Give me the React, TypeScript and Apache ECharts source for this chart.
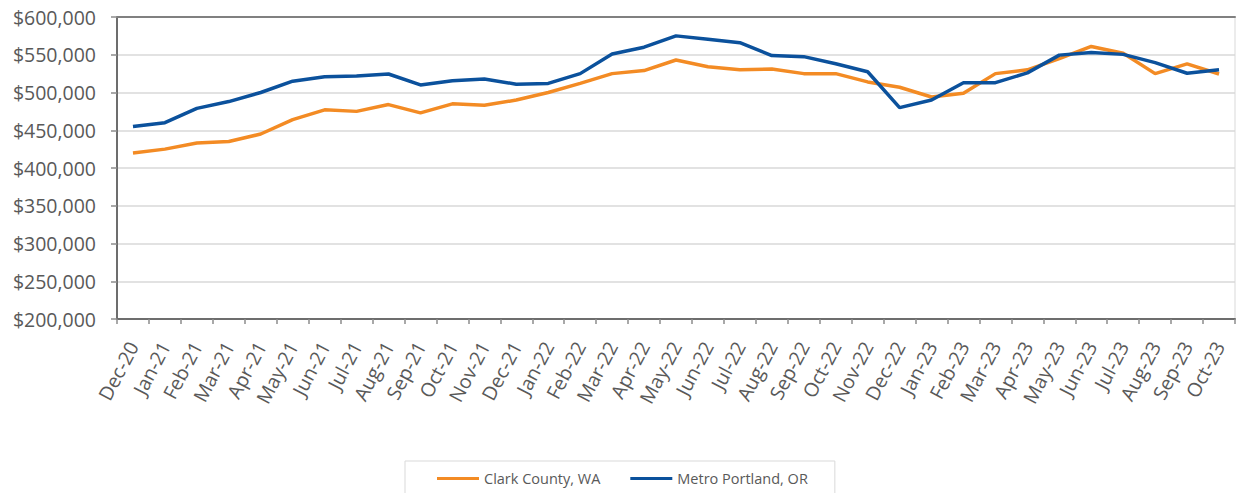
import React, { useEffect, useRef } from "react";
import * as echarts from "echarts";

const months = [
  "Dec-20", "Jan-21", "Feb-21", "Mar-21", "Apr-21", "May-21", "Jun-21", "Jul-21", "Aug-21", "Sep-21",
  "Oct-21", "Nov-21", "Dec-21", "Jan-22", "Feb-22", "Mar-22", "Apr-22", "May-22", "Jun-22", "Jul-22",
  "Aug-22", "Sep-22", "Oct-22", "Nov-22", "Dec-22", "Jan-23", "Feb-23", "Mar-23", "Apr-23", "May-23",
  "Jun-23", "Jul-23", "Aug-23", "Sep-23", "Oct-23",
];

const clarkCounty = [
  420000, 425000, 433000, 435000, 445000, 464000, 477000, 475000, 484000, 473000,
  485000, 483000, 490000, 500000, 512000, 525000, 529000, 543000, 534000, 530000,
  531000, 525000, 525000, 514000, 507000, 494000, 499000, 525000, 530000, 545000,
  561000, 552000, 525000, 538000, 524500,
];

const metroPortland = [
  455000, 460000, 479000, 488000, 500000, 515000, 521000, 522000, 524500, 510000,
  515500, 518000, 511000, 512000, 525000, 551000, 560000, 575000, 570500, 566000,
  549000, 547500, 538000, 527500, 480000, 490000, 513000, 513000, 526000, 549500,
  553000, 550500, 539500, 525500, 530000,
];

const seriesNames = ["Clark County, WA", "Metro Portland, OR"];

export default function App() {
  const ref = useRef<HTMLDivElement>(null);

  useEffect(() => {
    if (!ref.current) return;
    const chart = echarts.init(ref.current, undefined, { renderer: "svg" });
    const font = "'Open Sans', 'Noto Sans', sans-serif";
    chart.setOption({
      animation: false,
      backgroundColor: "#ffffff",
      textStyle: { fontFamily: font },
      grid: {
        left: 117,
        right: 1,
        top: 17,
        bottom: 174,
        show: true,
        borderColor: "#d9d9d9",
        borderWidth: 1,
        containLabel: false,
      },
      legend: {
        data: seriesNames.map((n) => ({ name: n, icon: "rect" })),
        top: 461,
        left: 405,
        itemWidth: 42,
        itemHeight: 3,
        itemGap: 30,
        padding: [10, 27, 10, 32],
        borderColor: "#d9d9d9",
        borderWidth: 1,
        textStyle: { fontFamily: font, fontSize: 14.5, color: "#595959" },
      },
      xAxis: [
        {
          type: "category",
          data: months,
          boundaryGap: true,
          axisLine: { show: true, lineStyle: { color: "#6d6d6d", width: 2 } },
          axisTick: { show: true, length: 5, lineStyle: { color: "#8c8c8c", width: 1.5 } },
          axisLabel: {
            rotate: 62,
            margin: 24,
            interval: 0,
            fontSize: 19.5,
            color: "#595959",
            fontFamily: font,
          },
          splitLine: { show: false },
        },
        {
          type: "category",
          data: months,
          position: "top",
          axisLine: { show: true, lineStyle: { color: "#808080", width: 2 } },
          axisTick: { show: false },
          axisLabel: { show: false },
          splitLine: { show: false },
        },
      ],
      yAxis: {
        type: "value",
        min: 200000,
        max: 600000,
        interval: 50000,
        axisLine: { show: true, lineStyle: { color: "#6d6d6d", width: 2 } },
        axisTick: { show: true, length: 6, lineStyle: { color: "#8c8c8c", width: 1.5 } },
        axisLabel: {
          margin: 21,
          fontSize: 19.5,
          color: "#595959",
          fontFamily: font,
          formatter: (v: number) => "$" + v.toLocaleString("en-US"),
        },
        splitLine: { show: true, lineStyle: { color: "#d9d9d9", width: 1.5 } },
      },
      series: [
        {
          name: seriesNames[0],
          type: "line",
          data: clarkCounty,
          showSymbol: false,
          symbol: "none",
          lineStyle: { color: "#F38B24", width: 3.5 },
          itemStyle: { color: "#F38B24" },
          z: 3,
        },
        {
          name: seriesNames[1],
          type: "line",
          data: metroPortland,
          showSymbol: false,
          symbol: "none",
          lineStyle: { color: "#0B519C", width: 3.5 },
          itemStyle: { color: "#0B519C" },
          z: 4,
        },
      ],
    });
    return () => chart.dispose();
  }, []);

  return (
    <div
      ref={ref}
      style={{ position: "fixed", left: 0, top: 0, width: 1236, height: 493, background: "#fff" }}
    />
  );
}
